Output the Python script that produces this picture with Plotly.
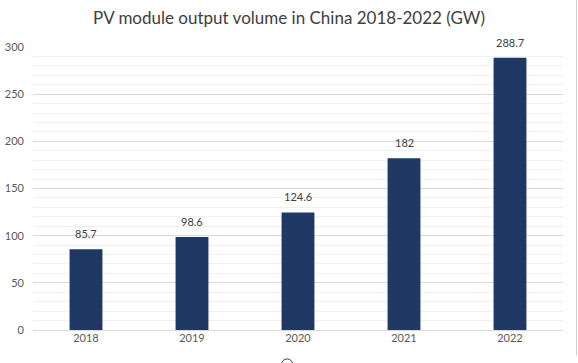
import plotly.graph_objects as go

years = ["2018", "2019", "2020", "2021", "2022"]
volumes = [85.7, 98.6, 124.6, 182, 288.7]
labels = ["85.7", "98.6", "124.6", "182", "288.7"]
bar_color = "#203864"

fig = go.Figure()
fig.add_trace(go.Bar(x=years, y=volumes, marker=dict(color=bar_color, line=dict(width=0)),
                     width=0.31, hoverinfo="skip"))

for i, (v, lab) in enumerate(zip(volumes, labels)):
    fig.add_annotation(x=i, y=v, text=lab, showarrow=False, yanchor="bottom", yshift=7,
                       font=dict(family="Lato, Liberation Sans, sans-serif", size=11, color="#404040"))

# chart-frame edge on the right and selection handle at bottom centre
fig.add_shape(type="line", xref="paper", yref="paper", x0=1.0255, x1=1.0255, y0=-0.09, y1=1.3,
              line=dict(color="#d0d0d0", width=1))
fig.add_shape(type="circle", xref="paper", yref="paper", x0=0.469, x1=0.490, y0=-0.142, y1=-0.102,
              line=dict(color="#404040", width=1), fillcolor="white")

fig.update_layout(
    width=578, height=363,
    margin=dict(l=33, r=15, t=47, b=33, autoexpand=False),
    paper_bgcolor="white", plot_bgcolor="white",
    showlegend=False,
    title=dict(text="PV module output volume in China 2018-2022 (GW)", x=0.5, xanchor="center",
               y=0.95, yanchor="middle", yref="container",
               font=dict(family="Lato, Liberation Sans, sans-serif", size=17, color="#404040")),
    font=dict(family="Lato, Liberation Sans, sans-serif", size=11, color="#595959"),
)
fig.update_xaxes(type="category", range=[-0.5, len(years) - 0.5], showgrid=False, showline=False, ticks="",
                 tickfont=dict(size=11, color="#595959"), automargin=False)
fig.update_yaxes(range=[0, 300], tickvals=[0, 50, 100, 150, 200, 250, 300],
                 showgrid=True, gridcolor="#d9d9d9", gridwidth=1,
                 minor=dict(dtick=10, showgrid=True, gridcolor="#f0f0f0", gridwidth=1),
                 zeroline=True, zerolinecolor="#d9d9d9", zerolinewidth=1,
                 showline=False, ticks="", ticklabelstandoff=8,
                 tickfont=dict(size=11, color="#595959"), automargin=False)

fig.write_html("out.html", config={"displayModeBar": False},
               post_script="document.body.style.margin='0';document.body.style.overflow='hidden';")
